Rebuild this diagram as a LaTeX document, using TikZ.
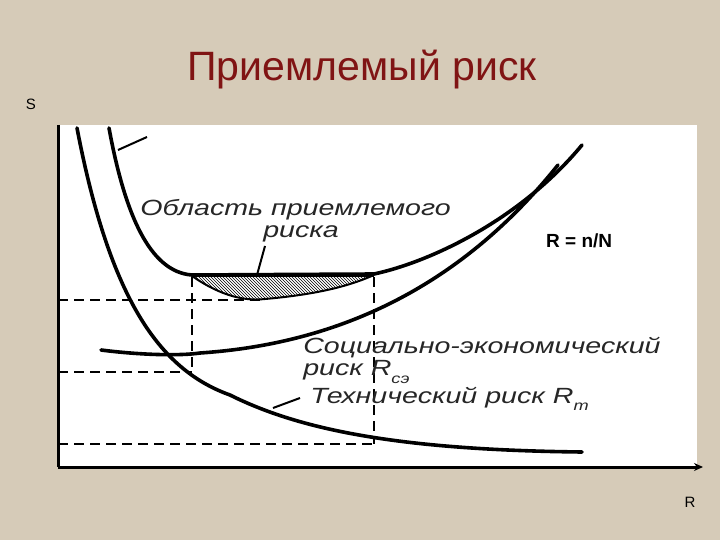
\documentclass[tikz,border=0pt]{standalone}
\usepackage{fontspec}
\setmainfont{Liberation Sans}
\usetikzlibrary{patterns,arrows.meta}
\definecolor{bg}{RGB}{214,203,184}
\definecolor{ttl}{RGB}{128,20,20}
\newcommand{\mysub}[1]{\raisebox{-0.35em}{\fontsize{14}{16}\selectfont #1}}
\begin{document}
\begin{tikzpicture}[x=1pt,y=-1pt,
  crv/.style={line width=3.6pt,line cap=round},
  dsh/.style={line width=2pt,dash pattern=on 10pt off 6pt},
  lbl/.style={font=\fontsize{22}{26}\selectfont\itshape,text=black!85,inner sep=0pt,xscale=1.3},
  thin/.style={line width=2pt}]
\fill[bg] (0,0) rectangle (720,540);
\useasboundingbox (0,0) rectangle (720,540);
\fill[white] (58,125) rectangle (697,468);
\node[text=ttl,font=\fontsize{41}{46}\selectfont] (title) at (362,70) {Приемлемый риск};
\node[font=\fontsize{15}{17}\selectfont] (S) at (31,104) {S};
\node[font=\fontsize{15}{17}\selectfont] (Rx) at (690,502) {R};
% axes
\coordinate (o) at (58,467);
\coordinate (ytop) at (58,125);
\coordinate (xend) at (703,467);
\draw[line width=3pt] (ytop) -- (o);
\draw[line width=3pt,-{Stealth[length=9pt,width=8pt]}] (o) -- (xend);
% hatched region
\fill[pattern=north west lines] (192,275) .. controls (215,292) and (240,302) .. (265,299) .. controls (310,295) and (345,288) .. (374,275) -- cycle;
\draw[line width=2pt] (192,276) .. controls (215,292) and (240,302) .. (265,299) .. controls (310,295) and (345,288) .. (374,275);
\draw[line width=4pt] (192,275) -- (374,275);
% dashed
\coordinate (a1) at (58,300); \coordinate (a2) at (262,300);
\coordinate (b1) at (58,372); \coordinate (b2) at (192,372);
\coordinate (c1) at (58,444); \coordinate (c2) at (374,444);
\coordinate (v1) at (192,277); \coordinate (v2) at (374,277);
\draw[dsh] (a1) -- (a2); \draw[dsh] (b1) -- (b2); \draw[dsh] (c1) -- (c2);
\draw[dsh] (v1) -- (b2); \draw[dsh] (v2) -- (c2);
% curves
\draw[crv] (109,128) .. controls (125,215) and (150,272) .. (192,275) -- (374,274) .. controls (430,262) and (520,220) .. (582,145);
\draw[crv] (101,350) .. controls (140,355) and (180,356) .. (200,353) .. controls (320,345) and (450,300) .. (558,165);
\draw[crv] (77,128) .. controls (110,300) and (160,370) .. (230,395) .. controls (300,430) and (400,450) .. (582,452);
% leaders
\draw[thin] (118,150) -- (147,137);
\draw[thin] (257,275) -- (265,246);
\draw[thin] (273,408) -- (300,398);
% labels
\node[lbl,anchor=west] (l1) at (140,210) {Область приемлемого};
\node[lbl,anchor=west] (l2) at (263,234) {риска};
\node[font=\fontsize{19}{22}\selectfont\bfseries,anchor=west,inner sep=0pt] (eq) at (546,241) {R = n/N};
\node[lbl,anchor=west] (l3) at (303,348) {Социально-экономический};
\node[lbl,anchor=west] (l4) at (303,372) {риск R\mysub{сэ}};
\node[lbl,anchor=west] (l5) at (310,399) {Технический риск R\mysub{т}};
\end{tikzpicture}
\end{document}
